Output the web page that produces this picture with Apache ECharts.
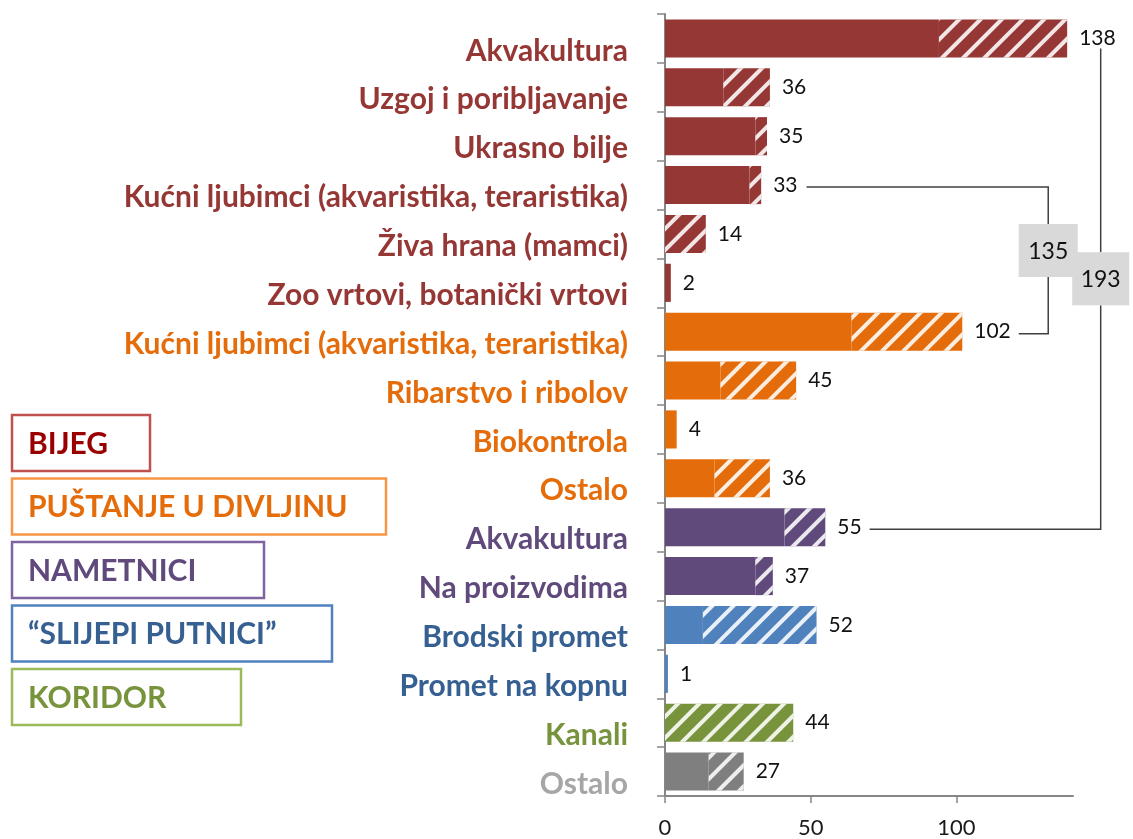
<!DOCTYPE html>
<html style="height: 100%">
<head>
    <meta charset="utf-8">
</head>
<body style="height: 100%; margin: 0; background: #fff">
<div id="container" style="width: 1133px; height: 839px"></div>

<script type="text/javascript" src="https://cdn.jsdelivr.net/npm/echarts@6/dist/echarts.min.js"></script>
<script type="text/javascript">
    // categories, top to bottom
    const categories = ['Akvakultura', 'Uzgoj i poribljavanje', 'Ukrasno bilje',
        'Kućni ljubimci (akvaristika, teraristika)', 'Živa hrana (mamci)', 'Zoo vrtovi, botanički vrtovi',
        'Kućni ljubimci (akvaristika, teraristika)', 'Ribarstvo i ribolov', 'Biokontrola', 'Ostalo',
        'Akvakultura', 'Na proizvodima', 'Brodski promet', 'Promet na kopnu', 'Kanali', 'Ostalo'];
    const groupOf = [0, 0, 0, 0, 0, 0, 1, 1, 1, 1, 2, 2, 3, 3, 4, 5];
    // total per bar (labels) and the solid (not hatched) part
    const totals = [138, 36, 35, 33, 14, 2, 102, 45, 4, 36, 55, 37, 52, 1, 44, 27];
    const solidPart = [94, 20, 31, 29, 0, 2, 64, 19, 4, 17, 41, 31, 13, 1, 0, 15];
    const xTicks = [0, 50, 100];
    const groupNames = ['BIJEG', 'PUŠTANJE U DIVLJINU', 'NAMETNICI', '\u201CSLIJEPI PUTNICI\u201D', 'KORIDOR'];
    const brackets = [{from: 3, to: 6}, {from: 0, to: 10}];

    const barColors = ['#953735', '#E46C0A', '#604A7B', '#4F81BD', '#77933C', '#7F7F7F'];
    const labelColors = ['#953735', '#E46C0A', '#604A7B', '#376092', '#77933C', '#A6A6A6'];
    const boxBorders = ['#C0504D', '#F79646', '#8064A2', '#4F81BD', '#9BBB59'];
    const boxText = ['#990000', '#E46C0A', '#604A7B', '#376092', '#77933C'];
    const FONT = 'Lato';

    const hatchedPart = totals.map((t, i) => t - solidPart[i]);

    var dom = document.getElementById('container');
    var myChart = echarts.init(dom, null, {renderer: 'canvas'});

    const decal = {
        symbol: 'rect',
        symbolSize: 1,
        dashArrayX: [1, 0],
        dashArrayY: [4, 11],
        rotation: -Math.PI / 4,
        color: 'rgba(255,255,255,0.88)'
    };

    var option = {
        animation: false,
        grid: {left: 665, top: 14, right: 60, bottom: 43},
        xAxis: {
            type: 'value',
            min: 0,
            max: 140,
            interval: 50,
            splitLine: {show: false},
            axisLine: {show: true, lineStyle: {color: '#868686', width: 2}},
            axisTick: {show: true, length: 7, customValues: xTicks, lineStyle: {color: '#868686', width: 1.5}},
            axisLabel: {customValues: xTicks, color: '#1a1a1a', fontSize: 22, fontFamily: FONT, margin: 21}
        },
        yAxis: {
            type: 'category',
            inverse: true,
            data: categories.map((c, i) => ({value: c, textStyle: {color: labelColors[groupOf[i]]}})),
            axisLine: {show: true, lineStyle: {color: '#868686', width: 2}},
            axisTick: {show: true, length: 8, lineStyle: {color: '#868686', width: 1.5}},
            axisLabel: {
                fontSize: 30, fontWeight: 'bold', fontFamily: FONT, margin: 37,
                lineHeight: 25,
                interval: 0,
                showMinLabel: true,
                showMaxLabel: true,
                hideOverlap: false,
                // empty first line pushes the label a little below the bar centre
                formatter: v => '\n' + v
            }
        },
        series: [
            {
                type: 'bar',
                stack: 'all',
                barCategoryGap: '22%',
                data: solidPart.map((v, i) => ({value: v, itemStyle: {color: barColors[groupOf[i]]}})),
                silent: true
            },
            {
                type: 'bar',
                stack: 'all',
                data: hatchedPart.map((v, i) => ({
                    value: v,
                    itemStyle: {color: barColors[groupOf[i]], decal: decal}
                })),
                label: {
                    show: true,
                    position: 'right',
                    distance: 12,
                    color: '#111',
                    fontSize: 21,
                    fontFamily: FONT,
                    formatter: p => String(totals[p.dataIndex])
                },
                silent: true
            }
        ]
    };
    myChart.setOption(option);

    // text width helper for placing the bracket lines next to the labels
    const ctx = document.createElement('canvas').getContext('2d');
    ctx.font = '21px ' + FONT;
    const tw = s => ctx.measureText(s).width;

    const graphics = [];
    const lineStyle = {stroke: '#404040', lineWidth: 1.5, fill: null};
    const bracketX = [131.5, 149.5];
    const boxW = [59, 57];
    const boxShift = [-8, -4];
    brackets.forEach((b, k) => {
        const sum = totals[b.from] + totals[b.to];
        const p1 = myChart.convertToPixel({gridIndex: 0}, [totals[b.from], b.from]);
        const p2 = myChart.convertToPixel({gridIndex: 0}, [totals[b.to], b.to]);
        const xr = myChart.convertToPixel({gridIndex: 0}, [bracketX[k], 0])[0];
        const x1 = p1[0] + 12 + tw(String(totals[b.from])) + 9;
        const x2 = p2[0] + 12 + tw(String(totals[b.to])) + 8;
        const midY = (p1[1] + p2[1]) / 2 + boxShift[k];
        const h = 53;
        let pts1;
        if (k === 0) {
            pts1 = [[x1, p1[1] + 2], [xr, p1[1] + 2], [xr, midY - h / 2]];
        } else {
            pts1 = [[xr, p1[1] + 10], [xr, midY - h / 2]];
        }
        const pts2 = [[xr, midY + h / 2], [xr, p2[1] + 2], [x2, p2[1] + 2]];
        graphics.push({type: 'polyline', shape: {points: pts1}, style: lineStyle, silent: true});
        graphics.push({type: 'polyline', shape: {points: pts2}, style: lineStyle, silent: true});
        graphics.push({
            type: 'rect',
            shape: {x: xr - boxW[k] / 2, y: midY - h / 2, width: boxW[k], height: h},
            style: {fill: '#D9D9D9'}, silent: true
        });
        graphics.push({
            type: 'text', x: xr, y: midY + 1,
            style: {text: String(sum), fontSize: 23, fontFamily: FONT, fill: '#111', align: 'center', verticalAlign: 'middle'},
            silent: true
        });
    });

    // coloured group boxes on the left
    const boxWidths = [138, 374, 252, 320, 229];
    groupNames.forEach((name, i) => {
        const top = 415 + i * 63.5;
        graphics.push({
            type: 'rect',
            shape: {x: 12, y: top, width: boxWidths[i], height: 56},
            style: {fill: '#fff', stroke: boxBorders[i], lineWidth: 2.5},
            silent: true
        });
        graphics.push({
            type: 'text', x: 28, y: top + 29,
            style: {text: name, fontSize: 30, fontWeight: 'bold', fontFamily: FONT, fill: boxText[i], verticalAlign: 'middle'},
            silent: true
        });
    });

    myChart.setOption({graphic: graphics});
</script>
</body>
</html>
